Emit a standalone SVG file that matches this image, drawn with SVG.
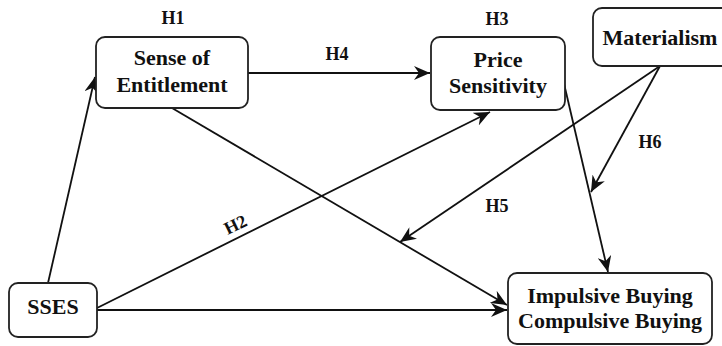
<svg xmlns="http://www.w3.org/2000/svg" width="722" height="346" viewBox="0 0 722 346">
  <style>
    .box { fill: #ffffff; stroke: #222222; stroke-width: 1.8; }
    .lbl { font-family: "Liberation Serif", "Times New Roman", serif; font-weight: bold; font-size: 22px; fill: #111111; text-anchor: middle; }
    .hyp { font-family: "Liberation Serif", "Times New Roman", serif; font-weight: bold; font-size: 18px; fill: #111111; text-anchor: middle; }
    .edge { fill: none; stroke: #111111; stroke-width: 1.8; marker-end: url(#arrow); }
  </style>
  <defs>
    <marker id="arrow" viewBox="0 0 16 14" refX="16" refY="7" markerWidth="16" markerHeight="14" markerUnits="userSpaceOnUse" orient="auto">
      <path d="M0,0 L16,7 L0,14 L5,7 Z" fill="#111111"/>
    </marker>
  </defs>
  <rect width="722" height="346" fill="#ffffff"/>

  <!-- connectors -->
  <g id="connectors">
    <line class="edge" x1="48" y1="283" x2="95" y2="77"/>
    <line class="edge" x1="248" y1="73" x2="430" y2="73"/>
    <line class="edge" x1="172" y1="108" x2="507" y2="305"/>
    <line class="edge" x1="97" y1="308" x2="490" y2="112"/>
    <line class="edge" x1="97" y1="310" x2="507" y2="310"/>
    <line class="edge" x1="562" y1="75" x2="608" y2="272"/>
    <line class="edge" x1="660" y1="66" x2="591" y2="192"/>
    <line class="edge" x1="660" y1="66" x2="400" y2="242"/>
  </g>

  <!-- hypothesis labels -->
  <g id="hypotheses">
    <text class="hyp" x="173" y="24">H1</text>
    <text class="hyp" x="497" y="25">H3</text>
    <text class="hyp" x="337" y="60">H4</text>
    <text class="hyp" x="650" y="148">H6</text>
    <text class="hyp" x="497" y="212">H5</text>
    <text class="hyp" x="0" y="0" transform="translate(238,230) rotate(-26)">H2</text>
  </g>

  <g id="sense-of-entitlement">
    <rect class="box" x="96" y="37" width="152" height="71" rx="9"/>
    <text class="lbl" x="172" y="65">Sense of</text>
    <text class="lbl" x="172" y="92">Entitlement</text>
  </g>

  <g id="price-sensitivity">
    <rect class="box" x="431" y="37" width="134" height="73" rx="9"/>
    <text class="lbl" x="498" y="67">Price</text>
    <text class="lbl" x="498" y="93">Sensitivity</text>
  </g>

  <g id="materialism">
    <rect class="box" x="593" y="8" width="140" height="58" rx="9"/>
    <text class="lbl" x="660" y="45">Materialism</text>
  </g>

  <g id="sses">
    <rect class="box" x="9" y="283" width="88" height="54" rx="9"/>
    <text class="lbl" x="53" y="314">SSES</text>
  </g>

  <g id="buying">
    <rect class="box" x="508" y="273" width="204" height="71" rx="9"/>
    <text class="lbl" x="610" y="303">Impulsive Buying</text>
    <text class="lbl" x="610" y="328">Compulsive Buying</text>
  </g>
</svg>
